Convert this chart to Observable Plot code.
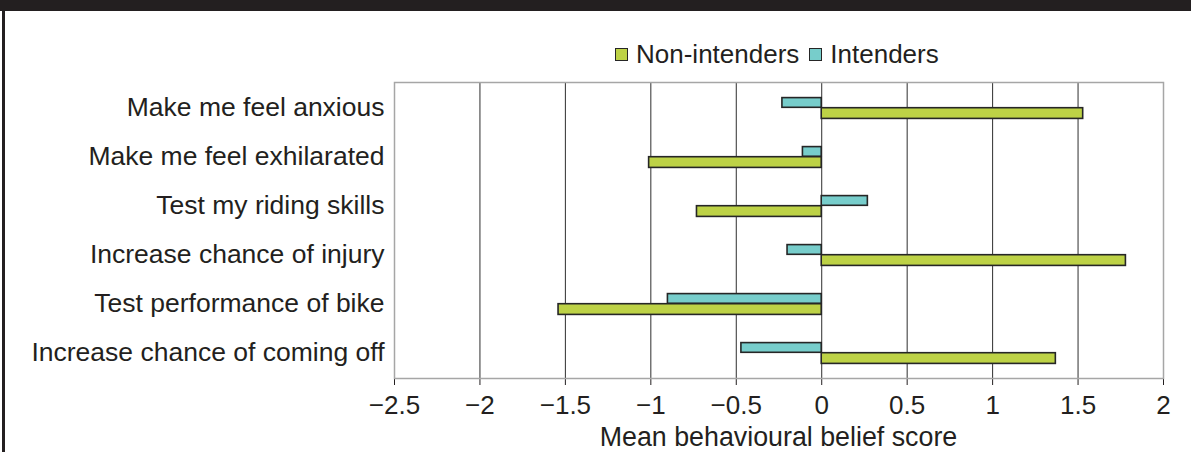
<!DOCTYPE html>
<html>
<head>
<meta charset="utf-8">
<script src="https://cdn.jsdelivr.net/npm/d3@7"></script>
<script src="https://cdn.jsdelivr.net/npm/@observablehq/plot@0.6"></script>
<style>
  html, body { margin: 0; padding: 0; background: #fff; }
  #wrap { position: relative; width: 1191px; height: 452px; overflow: hidden; font-family: "Liberation Sans", Arial, sans-serif; color: #231f20; }
  #topbar { position: absolute; left: 0; top: 0; width: 1191px; height: 11px; background: #231f20; }
  #leftbar { position: absolute; left: 2px; top: 0; width: 3px; height: 452px; background: #231f20; }
  #chart { position: absolute; left: 0; top: 0; }
  #legend { position: absolute; left: 615px; top: 39px; height: 30px; display: flex; align-items: center; font-size: 26px; white-space: nowrap; }
  .sw { display: inline-block; width: 11px; height: 11px; border: 1.5px solid #262626; margin-right: 8px; }
  .item { display: flex; align-items: center; margin-right: 10px; }
  #xlabel { position: absolute; left: 394px; width: 769px; top: 423px; text-align: center; font-size: 26.8px; line-height: 28px; }
  #chart svg [aria-label^="x-axis"] text { font-size: 26px; }
  #chart svg [aria-label^="y-axis"] text { font-size: 26.5px; }
</style>
</head>
<body>
<div id="wrap">
  <div id="chart"></div>
  <div id="topbar"></div>
  <div id="leftbar"></div>
  <div id="legend"></div>
  <div id="xlabel"></div>
</div>
<script>
const categories = [
  "Make me feel anxious",
  "Make me feel exhilarated",
  "Test my riding skills",
  "Increase chance of injury",
  "Test performance of bike",
  "Increase chance of coming off"
];
const seriesNames = ["Non-intenders", "Intenders"];
const seriesColors = ["#bdd246", "#77cdcb"];
const nonIntenders = [1.53, -1.01, -0.73, 1.78, -1.54, 1.37];
const intenders = [-0.23, -0.11, 0.27, -0.2, -0.9, -0.47];
const xTicks = [-2.5, -2, -1.5, -1, -0.5, 0, 0.5, 1, 1.5, 2];
const xLabel = "Mean behavioural belief score";

const rowsN = categories.map((c, i) => ({category: c, value: nonIntenders[i]}));
const rowsI = categories.map((c, i) => ({category: c, value: intenders[i]}));

const fmt = d => d < 0 ? "\u2212" + Math.abs(d) : String(d);

const chart = Plot.plot({
  width: 1191,
  height: 452,
  marginTop: 82,
  marginBottom: 74,
  marginLeft: 394,
  marginRight: 28,
  style: {fontFamily: "'Liberation Sans', Arial, sans-serif", fontSize: "26px", color: "#231f20", background: "transparent"},
  x: {domain: [-2.5, 2], ticks: xTicks, tickFormat: fmt, tickSize: 7, tickPadding: 10, label: null, line: true},
  y: {domain: categories, padding: 0, tickSize: 0, tickPadding: 10, label: null},
  marks: [
    Plot.ruleX(xTicks, {stroke: "#2e2e2e", strokeWidth: 1}),
    Plot.frame({stroke: "#a6a6a6", strokeWidth: 1.5}),
    Plot.barX(rowsI, {x: "value", y: "category", fill: seriesColors[1], stroke: "#262626", strokeWidth: 1.6, insetTop: 14.6, insetBottom: 24.7}),
    Plot.barX(rowsN, {x: "value", y: "category", fill: seriesColors[0], stroke: "#262626", strokeWidth: 1.6, insetTop: 24.7, insetBottom: 13.6}),
    Plot.ruleY([0], {frameAnchor: "bottom", stroke: "#333", strokeWidth: 1.5})
  ]
});
document.getElementById("chart").appendChild(chart);

const legend = document.getElementById("legend");
seriesNames.forEach((name, i) => {
  const item = document.createElement("span");
  item.className = "item";
  const sw = document.createElement("span");
  sw.className = "sw";
  sw.style.background = seriesColors[i];
  item.appendChild(sw);
  item.appendChild(document.createTextNode(name));
  legend.appendChild(item);
});
document.getElementById("xlabel").textContent = xLabel;
</script>
</body>
</html>
